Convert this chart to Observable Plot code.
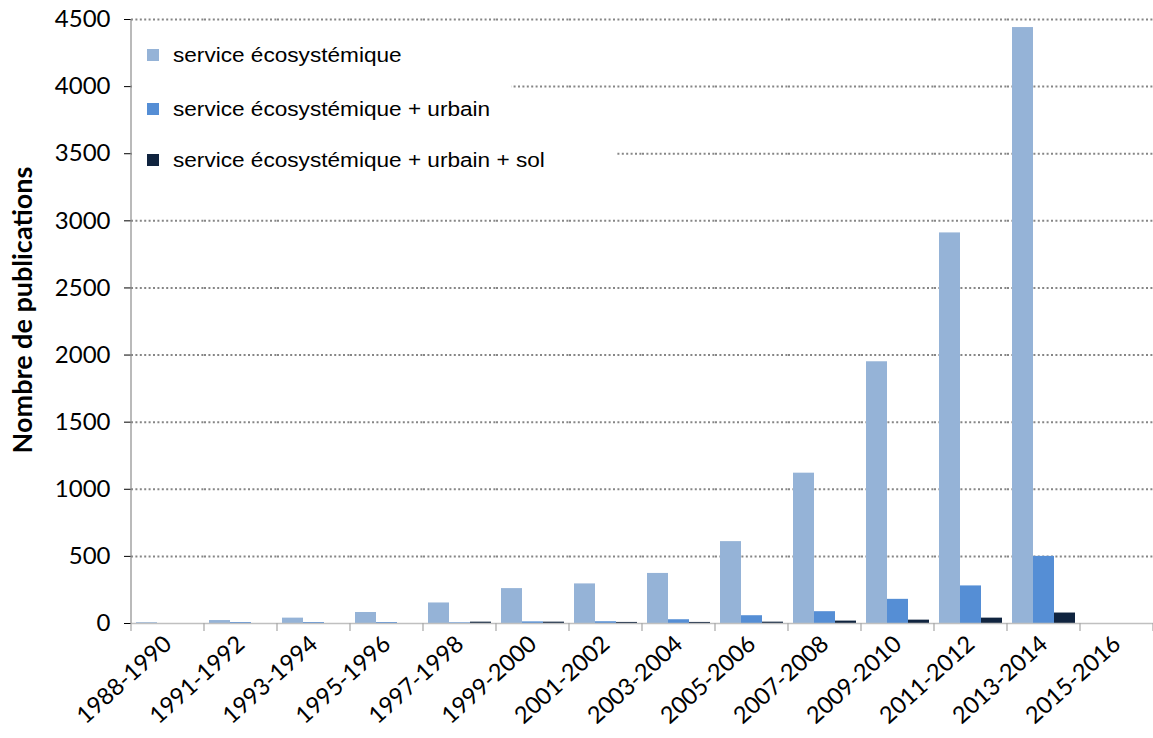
<!DOCTYPE html>
<html>
<head>
<meta charset="utf-8">
<script src="https://cdn.jsdelivr.net/npm/d3@7"></script>
<script src="https://cdn.jsdelivr.net/npm/@observablehq/plot@0.6"></script>
<style>
  html, body { margin: 0; padding: 0; background: #fff; overflow: hidden; }
  #wrap { position: relative; width: 1153px; height: 738px; overflow: hidden; }
  .lgbox { position: absolute; background: #fff; }
  .lgrow { position: absolute; left: 147px; height: 24px; display: flex; align-items: center; white-space: nowrap; }
  .sw { width: 12px; height: 12px; margin-right: 14px; flex: none; }
  .lt { font-family: "Liberation Sans", Arial, sans-serif; font-size: 20px; color: #000; transform: scaleX(1.13); transform-origin: left center; }
</style>
</head>
<body>
<div id="wrap"></div>
<script>
const categories = ["1988-1990","1991-1992","1993-1994","1995-1996","1997-1998","1999-2000","2001-2002","2003-2004","2005-2006","2007-2008","2009-2010","2011-2012","2013-2014","2015-2016"];
const seriesNames = ["service écosystémique","service écosystémique + urbain","service écosystémique + urbain + sol"];
const serviceEco = [6, 22, 40, 82, 153, 260, 295, 373, 610, 1120, 1950, 2910, 4440, 0];
const serviceUrbain = [0, 7, 7, 7, 5, 12, 13, 28, 58, 88, 180, 280, 500, 0];
const serviceUrbainSol = [0, 0, 0, 0, 10, 10, 8, 8, 10, 18, 25, 40, 78, 0];
const yTicks = [0, 500, 1000, 1500, 2000, 2500, 3000, 3500, 4000, 4500];
const colors = ["#95b3d7", "#558ed5", "#10243f"];
const yTitle = "Nombre de publications";

const seriesValues = [serviceEco, serviceUrbain, serviceUrbainSol];
const rows = categories.flatMap((c, i) => seriesNames.map((s, k) => ({cat: c, series: s, value: seriesValues[k][i]})));

const plot = Plot.plot({
  width: 1157, height: 738,
  marginLeft: 127, marginRight: 0, marginTop: 19, marginBottom: 115,
  style: {fontFamily: "Lato, sans-serif", fontSize: "24px", color: "#000", maxWidth: "none", background: "#fff"},
  fx: {domain: categories, padding: 0, label: null, axis: "bottom", tickRotate: -42, tickSize: 0, tickPadding: 17},
  x: {domain: seriesNames, paddingInner: 0, paddingOuter: 0.21, axis: null},
  y: {domain: [0, 4500], ticks: yTicks, tickSize: 7, tickPadding: 14, tickFormat: d => String(d), label: null},
  color: {domain: seriesNames, range: colors},
  marks: [
    Plot.gridY(yTicks.filter(d => d > 0), {stroke: "#868686", strokeOpacity: 1, strokeWidth: 2, strokeDasharray: "2,2.4"}),
    Plot.barY(rows, {fx: "cat", x: "series", y: "value", fill: "series"}),
    Plot.ruleY([0], {stroke: "#c0c0c0", strokeWidth: 1.5})
  ]
});

const svg = d3.select(plot);
svg.selectAll('[aria-label="y-axis tick"]').attr("stroke", "#8c8c8c");
svg.selectAll('[aria-label="fx-axis tick label"]').attr("font-size", "23.5px");

// axis lines and category boundary ticks from the library's scales
const fxs = plot.scale("fx");
const ys = plot.scale("y");
const g = svg.append("g");
const x0 = fxs.apply(categories[0]);
g.append("line").attr("x1", x0).attr("x2", x0).attr("y1", ys.apply(4500)).attr("y2", ys.apply(0)).attr("stroke", "#8c8c8c").attr("stroke-width", 1.2);
const bounds = categories.map(c => fxs.apply(c)).concat([fxs.apply(categories[categories.length - 1]) + fxs.bandwidth]);
bounds.forEach(b => {
  g.append("line").attr("x1", b).attr("x2", b).attr("y1", ys.apply(0)).attr("y2", ys.apply(0) + 8).attr("stroke", "#a6a6a6").attr("stroke-width", 1.2);
});
// y-axis title
const ymid = (ys.apply(0) + ys.apply(4500)) / 2 - 11;
g.append("text")
  .attr("transform", `translate(${x0 - 108},${ymid}) rotate(-90)`)
  .attr("text-anchor", "middle")
  .attr("dy", "0.35em")
  .attr("font-family", "Lato, sans-serif")
  .attr("font-weight", "bold")
  .attr("font-size", "27px")
  .attr("fill", "#000")
  .text(yTitle);

const wrap = document.getElementById("wrap");
wrap.appendChild(plot);

// legend (inside the plot area, white background)
const boxes = [[132, 30, 379, 112], [132, 142, 485, 36]];
boxes.forEach(([l, t, w, h]) => {
  const b = document.createElement("div");
  b.className = "lgbox";
  Object.assign(b.style, {left: l + "px", top: t + "px", width: w + "px", height: h + "px"});
  wrap.appendChild(b);
});
const rowTops = [43, 97, 148];
seriesNames.forEach((s, k) => {
  const r = document.createElement("div");
  r.className = "lgrow";
  r.style.top = rowTops[k] + "px";
  r.innerHTML = `<div class="sw" style="background:${colors[k]}"></div><span class="lt"></span>`;
  r.querySelector(".lt").textContent = s;
  wrap.appendChild(r);
});
</script>
</body>
</html>
